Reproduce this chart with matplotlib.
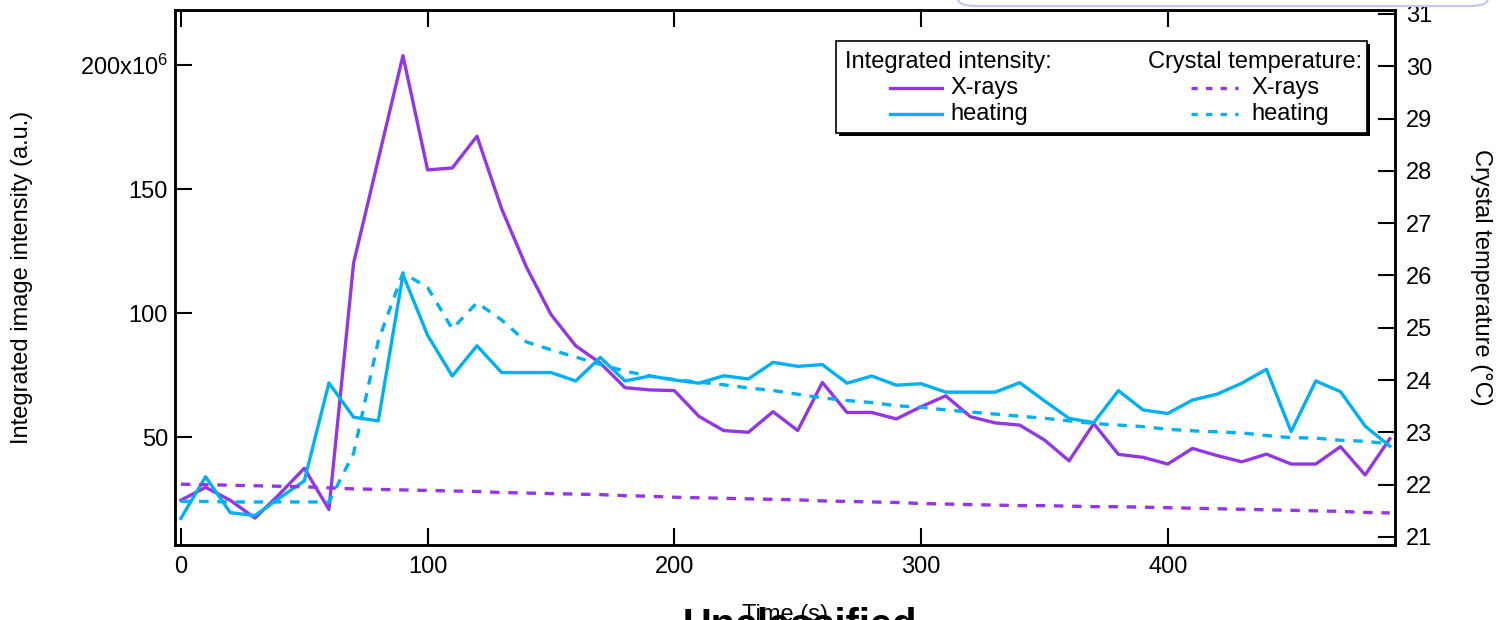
import matplotlib
matplotlib.use('Agg')
import matplotlib.pyplot as plt
from matplotlib.patches import Rectangle, FancyBboxPatch
from matplotlib.lines import Line2D
from matplotlib.ticker import FuncFormatter

plt.rcParams['font.family'] = ['Liberation Sans', 'DejaVu Sans']
plt.rcParams['mathtext.fontset'] = 'custom'
plt.rcParams['mathtext.rm'] = 'Liberation Sans'
plt.rcParams['mathtext.default'] = 'regular'
plt.rcParams['lines.scale_dashes'] = False

PURPLE = '#9237e6'
BLUE = '#00b0f4'

time_s = [0, 10, 20, 30, 40, 50, 60, 70, 80, 90,
          100, 110, 120, 130, 140, 150, 160, 170, 180, 190,
          200, 210, 220, 230, 240, 250, 260, 270, 280, 290,
          300, 310, 320, 330, 340, 350, 360, 370, 380, 390,
          400, 410, 420, 430, 440, 450, 460, 470, 480, 490]

# integrated image intensity (x 1e6, a.u.)
xray_int = [24.5, 29.7, 24.5, 17.3, 27.0, 37.4, 20.8, 120.2, 162.0, 203.8,
            157.7, 158.5, 171.3, 142.0, 118.6, 99.4, 86.8, 79.8, 69.9, 69.0,
            68.7, 58.3, 52.6, 51.9, 60.2, 52.6, 72.0, 59.9, 59.9, 57.3,
            62.2, 66.6, 58.2, 55.7, 54.8, 48.8, 40.4, 55.4, 43.0, 41.8,
            39.1, 45.4, 42.5, 40.0, 43.1, 39.1, 39.1, 46.1, 34.7, 49.3]
heat_int = [17.2, 34.0, 19.5, 18.3, 25.4, 32.3, 71.8, 58.0, 56.5, 115.5,
            91.0, 74.6, 86.8, 76.0, 76.0, 76.0, 72.6, 82.1, 72.6, 74.6,
            73.0, 71.7, 74.7, 73.4, 80.1, 78.5, 79.2, 71.7, 74.6, 70.9,
            71.5, 68.1, 68.1, 68.1, 71.9, 64.6, 57.5, 55.8, 68.7, 60.9,
            59.5, 64.9, 67.3, 71.7, 77.3, 52.2, 72.6, 68.3, 54.4, 46.3]

# crystal temperature (deg C)
xray_temp = [22.01, 22.00, 21.99, 21.98, 21.97, 21.96, 21.94, 21.92, 21.91, 21.90,
             21.89, 21.88, 21.87, 21.85, 21.84, 21.83, 21.82, 21.81, 21.79, 21.78,
             21.76, 21.75, 21.74, 21.73, 21.72, 21.71, 21.69, 21.68, 21.67, 21.66,
             21.64, 21.63, 21.62, 21.61, 21.60, 21.60, 21.59, 21.58, 21.58, 21.57,
             21.56, 21.55, 21.54, 21.53, 21.52, 21.51, 21.50, 21.49, 21.47, 21.46]
heat_temp = [21.68, 21.68, 21.67, 21.67, 21.67, 21.67, 21.67, 22.60, 24.75, 26.05,
             25.77, 24.98, 25.48, 25.15, 24.73, 24.58, 24.44, 24.30, 24.17, 24.08,
             24.01, 23.96, 23.91, 23.85, 23.80, 23.73, 23.66, 23.61, 23.57, 23.51,
             23.48, 23.43, 23.39, 23.35, 23.31, 23.27, 23.22, 23.17, 23.14, 23.11,
             23.06, 23.03, 23.01, 22.99, 22.94, 22.90, 22.89, 22.85, 22.83, 22.78]

W, H = 1496, 620
FS = 17


def fx(px):
    return px / W


def fy(py):
    return 1 - py / H


fig = plt.figure(figsize=(W / 100, H / 100), dpi=100)
ax = fig.add_axes([fx(175), fy(545), 1220 / W, 535 / H])
ax2 = ax.twinx()

ax.plot(time_s, xray_int, color=PURPLE, lw=2.4)
ax.plot(time_s, heat_int, color=BLUE, lw=2.4)
ax2.plot(time_s, xray_temp, color=PURPLE, lw=2.4, dashes=(6.8, 6.3))
ax2.plot(time_s, heat_temp, color=BLUE, lw=2.4, dashes=(6.8, 6.3))

ax.set_xlim(-2.4, 492.1)
ax.set_ylim(6.45, 222.2)
ax2.set_ylim(20.847, 31.076)

ax.set_xticks([0, 100, 200, 300, 400])
ax.set_yticks([50, 100, 150, 200])
ax.yaxis.set_major_formatter(FuncFormatter(
    lambda v, p: r'200x10$^{6}$' if v == 200 else f'{v:.0f}'))
ax2.set_yticks(range(21, 32))

ax.tick_params(axis='both', direction='in', length=12, width=1.5,
               labelsize=FS, top=True, right=False)
ax.tick_params(axis='x', pad=8)
ax.tick_params(axis='y', pad=5)
ax2.tick_params(axis='y', direction='in', length=12, width=1.5,
                labelsize=FS, pad=8)
for a in (ax, ax2):
    for s in a.spines.values():
        s.set_linewidth(1.8)

ax.set_ylabel('Integrated image intensity (a.u.)', fontsize=FS, va='center')
ax.yaxis.set_label_coords((22 - 175) / 1220, 0.5)
ax2.set_ylabel('Crystal temperature (°C)', fontsize=FS, rotation=270, va='center')
ax2.yaxis.set_label_coords((1481 - 175) / 1220, 0.5)
ax.set_xlabel('Time (s)', fontsize=FS, va='baseline')
ax.xaxis.set_label_coords(0.5, (545 - 621) / 535)

# legend box with drop shadow
fig.add_artist(Rectangle((fx(839), fy(136)), 531 / W, 92 / H,
                         transform=fig.transFigure, fc='black', ec='none', zorder=5))
fig.add_artist(Rectangle((fx(836), fy(133)), 531 / W, 92 / H,
                         transform=fig.transFigure, fc='white', ec='black',
                         lw=1.2, zorder=6))
fig.text(fx(845), fy(62), 'Integrated intensity:', fontsize=FS,
         ha='left', va='center', zorder=7)
fig.text(fx(1362), fy(62), 'Crystal temperature:', fontsize=FS,
         ha='right', va='center', zorder=7)
for row, (lab, col) in enumerate([('X-rays', PURPLE), ('heating', BLUE)]):
    yy = fy(88 + 26 * row)
    fig.add_artist(Line2D([fx(890), fx(942)], [yy, yy], transform=fig.transFigure,
                          color=col, lw=2.4, zorder=7))
    fig.text(fx(950), yy, lab, fontsize=FS, ha='left', va='center', zorder=7)
    fig.add_artist(Line2D([fx(1191), fx(1238)], [yy, yy], transform=fig.transFigure,
                          color=col, lw=2.4, dashes=(4.5, 6.0), zorder=7))
    fig.text(fx(1251), yy, lab, fontsize=FS, ha='left', va='center', zorder=7)

# banner box running off the top edge
fig.add_artist(FancyBboxPatch((fx(958), fy(6)), 530 / W, 0.1,
                              boxstyle='round,pad=0,rounding_size=0.012',
                              transform=fig.transFigure, fc='white',
                              ec='#c4c7f1', lw=1.6, zorder=1))

fig.text(fx(800), fy(637), 'Unclassified', fontsize=28.6, fontweight='bold',
         ha='center', va='baseline')

fig.savefig('out.png', dpi=100)
